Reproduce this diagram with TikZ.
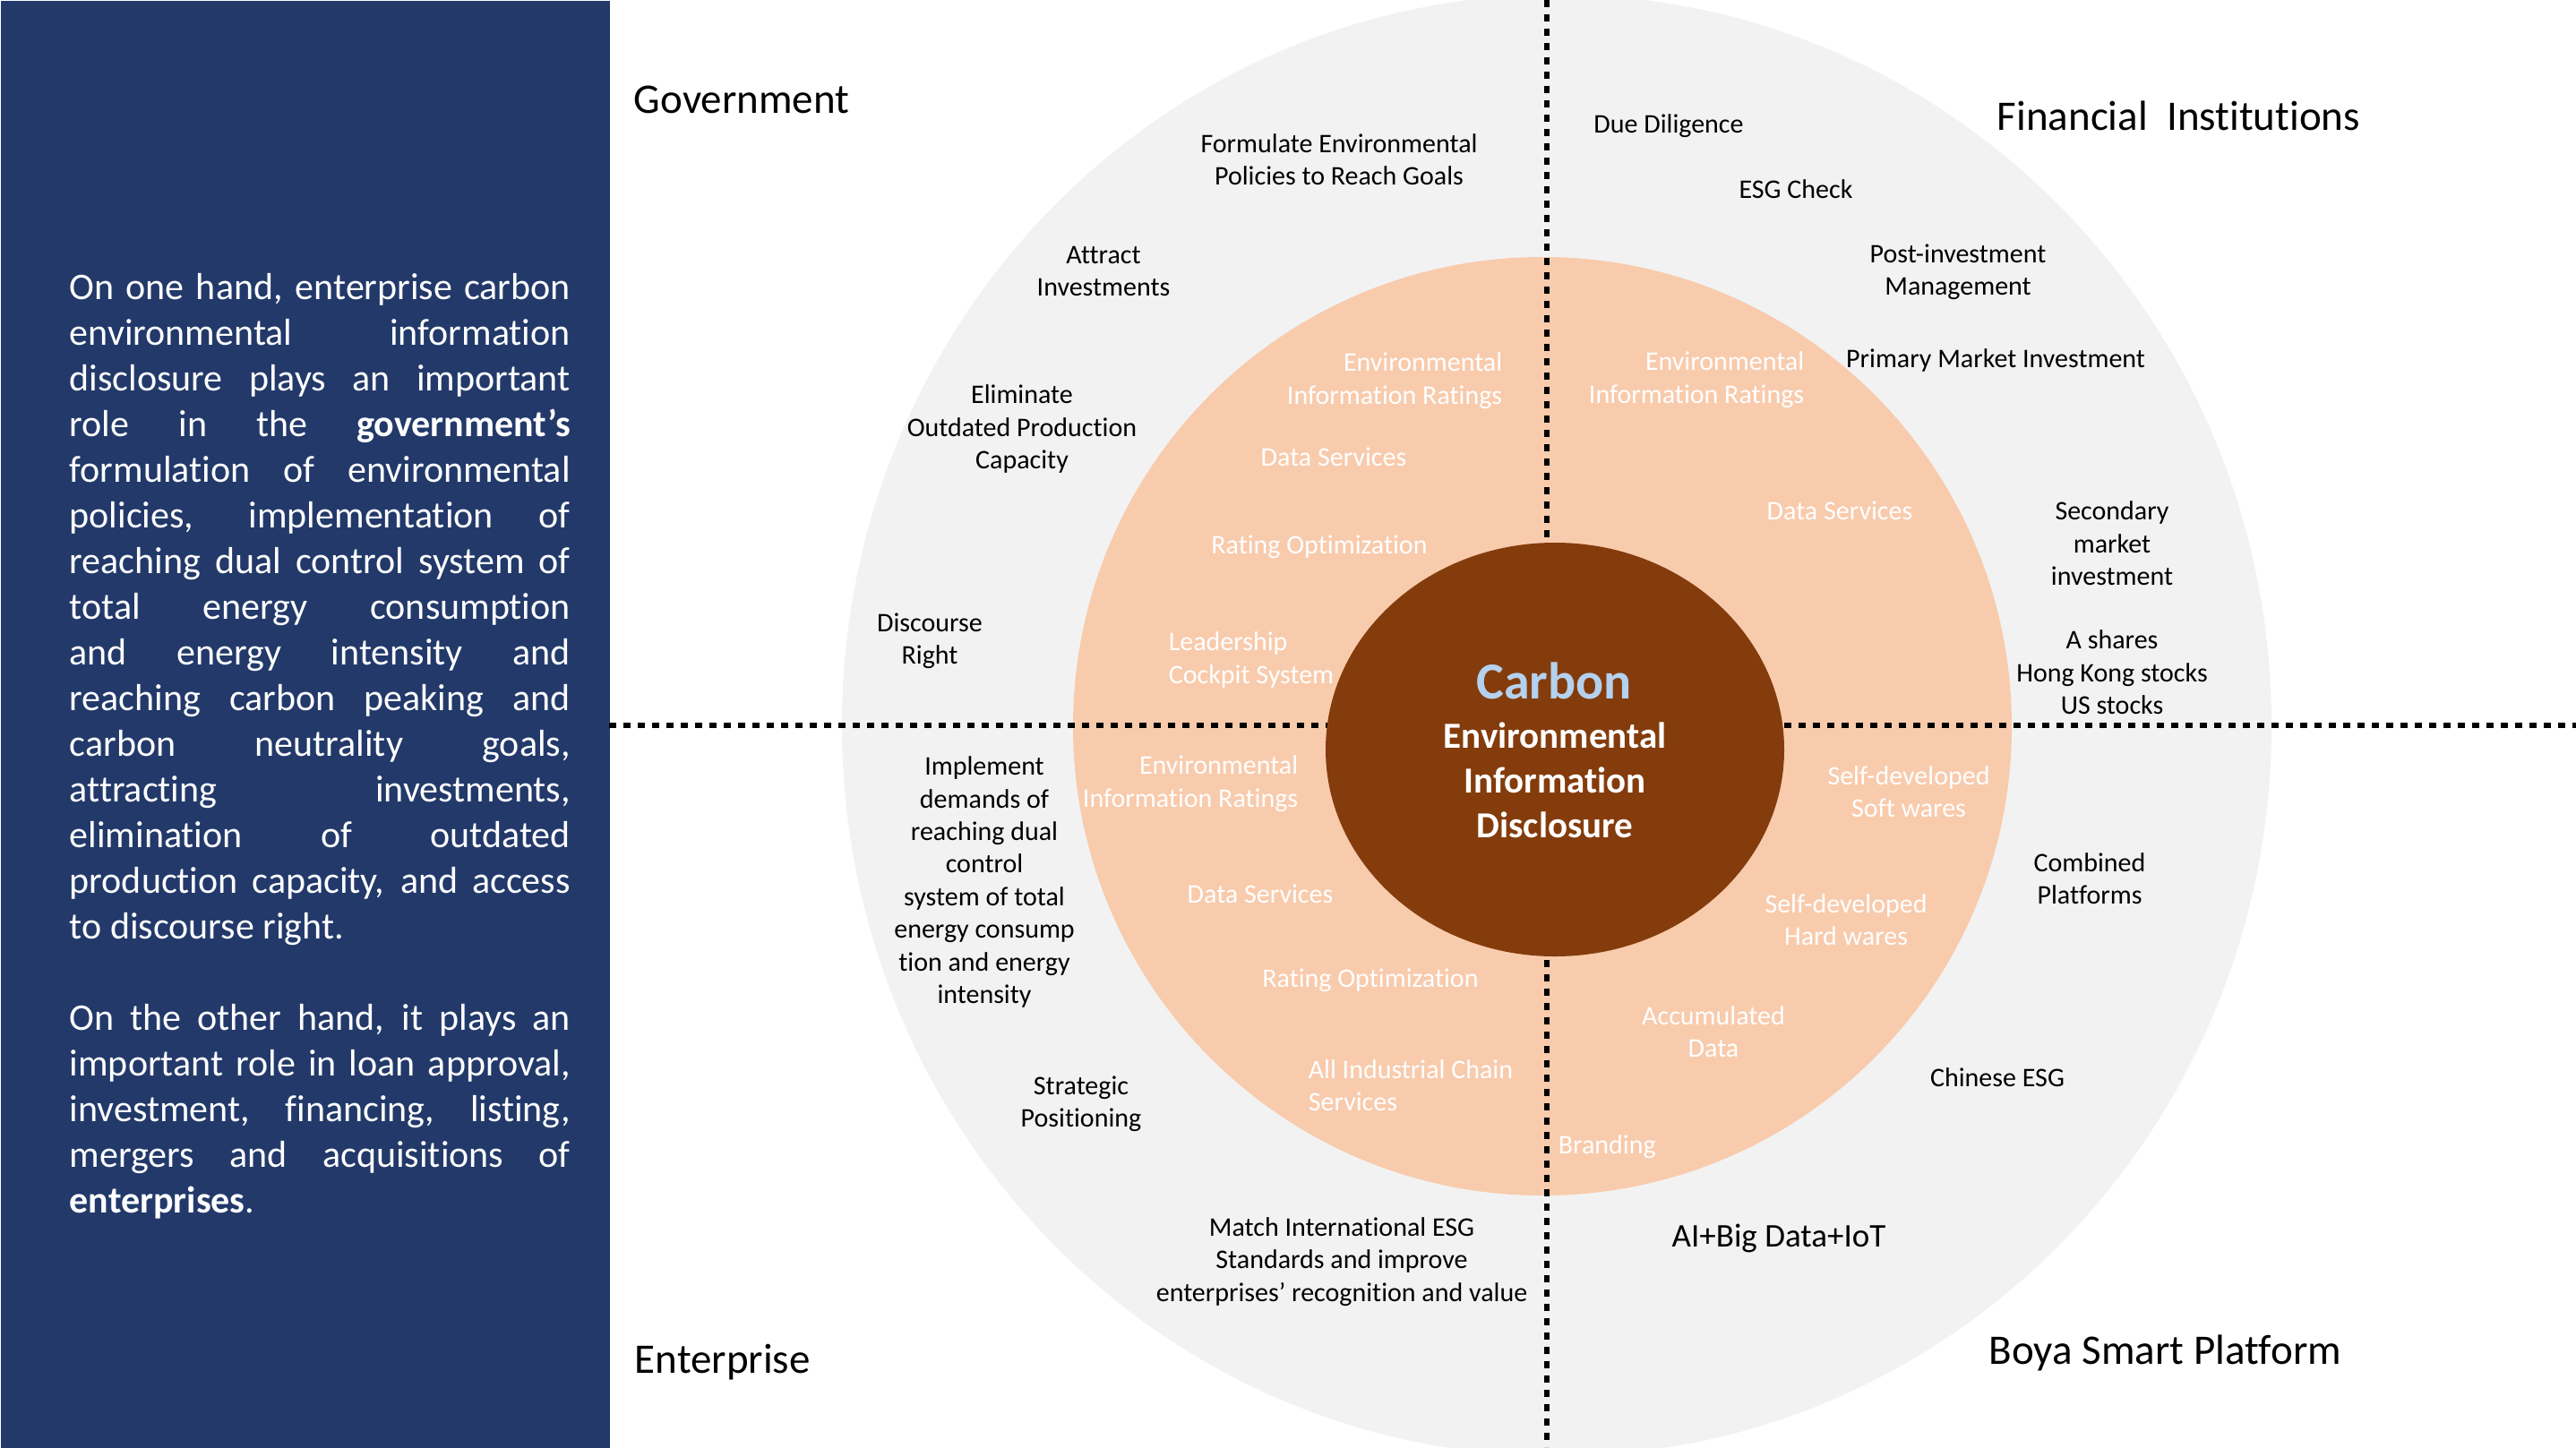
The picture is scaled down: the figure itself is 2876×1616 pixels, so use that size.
\documentclass[tikz,border=0pt]{standalone}
\usepackage{fontspec}
\setmainfont{Carlito}[Ligatures=NoCommon]
\usetikzlibrary{shapes.geometric}
\definecolor{navy}{HTML}{22396A}
\definecolor{ringgrey}{HTML}{F2F2F2}
\definecolor{peach}{HTML}{F8CBAD}
\definecolor{brownc}{HTML}{843C0C}
\definecolor{carbonblue}{HTML}{B4D1EE}
\newcommand\jl[1]{\hbox to\hsize{#1}}
\tikzset{
  lbl/.style={font=\fontsize{7.5pt}{9.1pt}\selectfont, align=center, inner sep=0pt, text=black},
  wlbl/.style={lbl, text=white},
  ttl/.style={font=\fontsize{11.75pt}{14pt}\selectfont, inner sep=0pt, anchor=base west, text=black},
  divider/.style={line width=1.65pt, dash pattern=on 2.1pt off 1.9pt, black}
}
\begin{document}
\begin{tikzpicture}[x=0.25pt,y=-0.25pt]
\useasboundingbox (0,0) rectangle (2876,1616);
\fill[white] (0,0) rectangle (2876,1616);
% left panel
\node[rectangle, fill=navy, minimum width=170pt, minimum height=404pt, anchor=north west, inner sep=0pt] (panel) at (0,0) {};
% rings
\node[ellipse, fill=ringgrey, minimum width=399pt, minimum height=408pt, inner sep=0pt] (outer) at (1738,810) {};
\node[circle, fill=peach, minimum size=262pt, inner sep=0pt] (mid) at (1722,811) {};
% dividers
\coordinate (hL) at (680,810);
\coordinate (hR) at (2876,810);
\coordinate (vT) at (1727,0);
\coordinate (vB) at (1727,1616);
\draw[divider] (hL) -- (hR);
\draw[divider] (vT) -- (vB);
% core
\node[ellipse, fill=brownc, minimum width=128pt, minimum height=115.5pt, inner sep=0pt] (core) at (1736,837) {};
\node[font=\fontsize{14.5pt}{17pt}\selectfont\bfseries, text=carbonblue, inner sep=0pt, anchor=base] (carbon) at (1735,780) {Carbon};
\node[font=\fontsize{10.25pt}{12.5pt}\selectfont\bfseries, text=white, align=center, inner sep=0pt] (eid) at (1736,871) {Environmental\\Information\\Disclosure};
% left paragraph
\node[font=\fontsize{10.5pt}{12.76pt}\selectfont, text=white, inner sep=0pt, anchor=base west] (para) at (77,334) {\parbox[t]{139.75pt}{%
\jl{On one hand, enterprise carbon}
\jl{environmental information}
\jl{disclosure plays an important}
\jl{role in the \textbf{government’s}}
\jl{formulation of environmental}
\jl{policies, implementation of}
\jl{reaching dual control system of}
\jl{total energy consumption}
\jl{and energy intensity and}
\jl{reaching carbon peaking and}
\jl{carbon neutrality goals,}
\jl{attracting investments,}
\jl{elimination of outdated}
\jl{production capacity, and access}
\hbox{to discourse right.}
\hbox{}
\jl{On the other hand, it plays an}
\jl{important role in loan approval,}
\jl{investment, financing, listing,}
\jl{mergers and acquisitions of}
\hbox{\textbf{enterprises}.}}};
% quadrant titles
\node[ttl] (gov) at (707,127) {Government};
\node[ttl] (fin) at (2229,146) {Financial\ \ Institutions};
\node[ttl] (ent) at (708,1533) {Enterprise};
\node[ttl] (boya) at (2220,1523) {Boya Smart Platform};
% grey ring labels
\node[lbl] (g1) at (1495,178) {Formulate Environmental\\Policies to Reach Goals};
\node[lbl] (g2) at (1232,303) {Attract\\Investments};
\node[lbl] (g3) at (1141,479) {Eliminate\\Outdated Production\\Capacity};
\node[lbl] (g4) at (1038,716) {Discourse\\Right};
\node[lbl] (g5) at (1099,985) {Implement\\demands of\\reaching dual\\control\\system of total\\energy consump\\tion and energy\\intensity};
\node[lbl] (g6) at (1207,1233) {Strategic\\Positioning};
\node[lbl] (g7) at (1498,1409) {Match International ESG\\Standards and improve\\enterprises’ recognition and value};
\node[lbl] (f1) at (1863,141) {Due Diligence};
\node[lbl] (f2) at (2005,211) {ESG Check};
\node[lbl] (f3) at (2186,304) {Post-investment\\Management};
\node[lbl] (f4) at (2228,402) {Primary Market Investment};
\node[lbl] (f5) at (2358,607) {Secondary\\market\\investment};
\node[lbl] (f6) at (2358,751) {A shares\\Hong Kong stocks\\US stocks};
\node[lbl] (b1) at (2333,981) {Combined\\Platforms};
\node[lbl] (b2) at (2230,1203) {Chinese ESG};
\node[lbl, font=\fontsize{9.25pt}{11pt}\selectfont] (b3) at (1986,1383) {AI+Big Data+IoT};
% peach ring labels
\node[wlbl, align=right, anchor=east] (p1) at (1678,425) {Environmental\\Information Ratings};
\node[wlbl] (p2) at (1489,510) {Data Services};
\node[wlbl] (p3) at (1473,611) {Rating Optimization};
\node[wlbl, align=left, anchor=west] (p4) at (1304,737) {Leadership\\Cockpit System};
\node[wlbl, align=right, anchor=east] (p5) at (2015,424) {Environmental\\Information Ratings};
\node[wlbl] (p6) at (2054,570) {Data Services};
\node[wlbl] (p7) at (2131,884) {Self-developed\\Soft wares};
\node[wlbl] (p8) at (2061,1027) {Self-developed\\Hard wares};
\node[wlbl] (p9) at (1913,1152) {Accumulated\\Data};
\node[wlbl, anchor=west] (p10) at (1739,1281) {Branding};
\node[wlbl, align=right, anchor=east] (p11) at (1450,875) {Environmental\\Information Ratings};
\node[wlbl] (p12) at (1407,998) {Data Services};
\node[wlbl] (p13) at (1530,1095) {Rating Optimization};
\node[wlbl, align=left, anchor=west] (p14) at (1460,1212) {All Industrial Chain\\Services};
\end{tikzpicture}
\end{document}
